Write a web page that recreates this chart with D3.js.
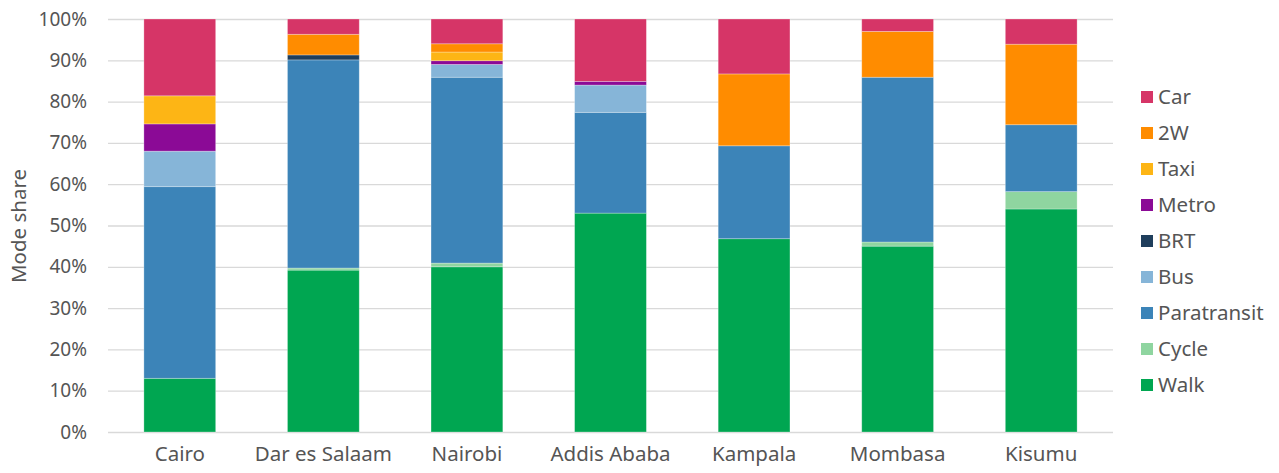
<!DOCTYPE html>
<head>
<meta charset="utf-8">
<script src="https://d3js.org/d3.v7.min.js"></script>
<style>
  body { margin: 0; background: #fff; }
  text { font-family: "Noto Sans", sans-serif; fill: #555555; }
  .grid line { stroke: #d9d9d9; stroke-width: 1.3; }
</style>
</head>
<body>
<div id="my_dataviz"></div>
<script>

// cities on the x axis
var cities = ["Cairo", "Dar es Salaam", "Nairobi", "Addis Ababa", "Kampala", "Mombasa", "Kisumu"];

// modes, bottom to top
var modes = ["Walk", "Cycle", "Paratransit", "Bus", "BRT", "Metro", "Taxi", "2W", "Car"];

// share per city (%), same order as cities
var walk        = [13.0, 39.2, 40.0, 53.0, 46.8, 45.0, 54.0];
var cycle       = [0.0,  0.5,  0.9,  0.0,  0.0,  1.0,  4.2];
var paratransit = [46.4, 50.4, 45.0, 24.4, 22.5, 39.9, 16.2];
var bus         = [8.6,  0.0,  3.1,  6.6,  0.0,  0.0,  0.0];
var brt         = [0.0,  1.2,  0.0,  0.0,  0.0,  0.0,  0.0];
var metro       = [6.6,  0.0,  0.9,  0.9,  0.0,  0.0,  0.0];
var taxi        = [6.8,  0.0,  2.1,  0.0,  0.0,  0.0,  0.0];
var twoWheeler  = [0.0,  5.0,  2.0,  0.0,  17.4, 11.1, 19.5];
var car         = [18.6, 3.7,  6.0,  15.1, 13.3, 3.0,  6.1];

var yTicks = [0, 10, 20, 30, 40, 50, 60, 70, 80, 90, 100];

var colors = {
  "Walk": "#00a651", "Cycle": "#8fd5a0", "Paratransit": "#3c84b8", "Bus": "#86b5d8",
  "BRT": "#1f3e5c", "Metro": "#8b0a96", "Taxi": "#fdb515", "2W": "#ff8c00", "Car": "#d63567"
};

var series = {
  "Walk": walk, "Cycle": cycle, "Paratransit": paratransit, "Bus": bus, "BRT": brt,
  "Metro": metro, "Taxi": taxi, "2W": twoWheeler, "Car": car
};

// build rows for d3.stack
var table = cities.map(function(c, i) {
  var row = {city: c};
  modes.forEach(function(m) { row[m] = series[m][i]; });
  return row;
});

var W = 1279, H = 473;
var margin = {top: 19, right: 166, bottom: 41, left: 108};
var width = W - margin.left - margin.right,
    height = H - margin.top - margin.bottom;

var svg = d3.select("#my_dataviz")
  .append("svg")
    .attr("width", W)
    .attr("height", H)
  .append("g")
    .attr("transform", "translate(" + margin.left + "," + margin.top + ")");

var x = d3.scaleBand()
  .domain(cities)
  .range([0, width])
  .paddingInner(0.5)
  .paddingOuter(0.25);

var y = d3.scaleLinear()
  .domain([0, 100])
  .range([height, 0]);

// gridlines
svg.append("g")
  .attr("class", "grid")
  .call(d3.axisLeft(y).tickValues(yTicks).tickSize(-width).tickFormat(""))
  .call(function(g) { g.select(".domain").remove(); });

// y tick labels
svg.append("g")
  .call(d3.axisLeft(y).tickValues(yTicks).tickSize(0).tickPadding(21).tickFormat(function(d) { return d + "%"; }))
  .call(function(g) { g.select(".domain").remove(); })
  .selectAll("text")
    .style("font-size", "19px");

// x labels
svg.append("g")
  .attr("transform", "translate(0," + height + ")")
  .call(d3.axisBottom(x).tickSize(0).tickPadding(14))
  .call(function(g) { g.select(".domain").remove(); })
  .selectAll("text")
    .style("font-size", "20.5px");

// stacked bars
var stacked = d3.stack().keys(modes)(table);

svg.append("g")
  .selectAll("g")
  .data(stacked)
  .enter()
  .append("g")
    .attr("fill", function(d) { return colors[d.key]; })
  .selectAll("rect")
  .data(function(d) { return d; })
  .enter()
  .append("rect")
    .attr("x", function(d) { return x(d.data.city); })
    .attr("y", function(d) { return y(d[1]); })
    .attr("height", function(d) { return y(d[0]) - y(d[1]); })
    .attr("width", x.bandwidth())
    .attr("stroke", "#ffffff")
    .attr("stroke-opacity", 0.35)
    .attr("stroke-width", 0.8);

// y axis title
svg.append("text")
  .attr("transform", "rotate(-90)")
  .attr("x", -207)
  .attr("y", -margin.left + 26)
  .attr("text-anchor", "middle")
  .style("font-size", "20.5px")
  .text("Mode share");

// legend, Car on top
var legend = svg.append("g")
  .attr("transform", "translate(" + (width + 28) + ",0)");

var legendItems = legend.selectAll("g")
  .data(modes.slice().reverse())
  .enter()
  .append("g")
    .attr("transform", function(d, i) { return "translate(0," + (78 + i * 36) + ")"; });

legendItems.append("rect")
  .attr("x", 0)
  .attr("y", -6)
  .attr("width", 12)
  .attr("height", 12)
  .attr("fill", function(d) { return colors[d]; });

legendItems.append("text")
  .attr("x", 17)
  .attr("dy", "0.35em")
  .style("font-size", "20.5px")
  .text(function(d) { return d; });

</script>
</body>
